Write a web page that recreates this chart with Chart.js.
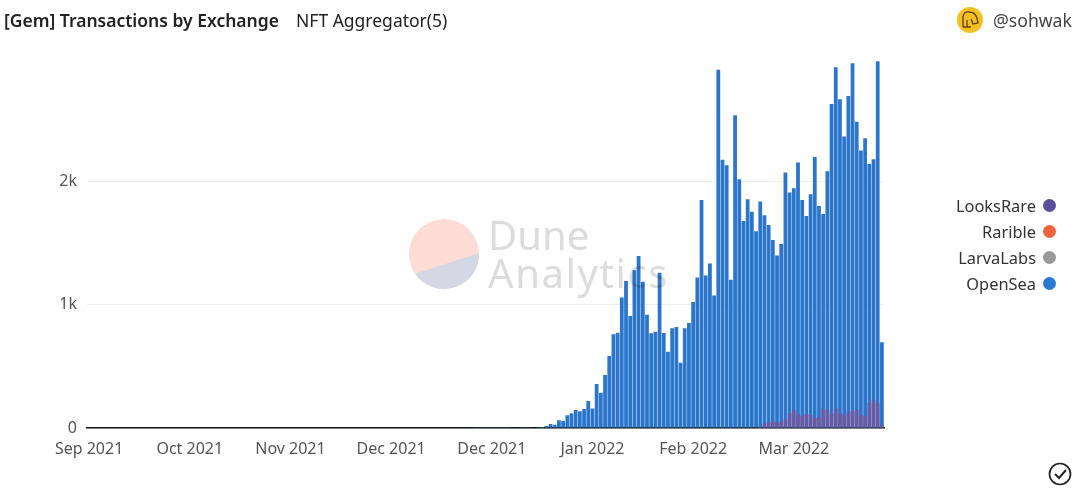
<!DOCTYPE html>
<html>
<head>
<meta charset="utf-8">
<script src="https://cdn.jsdelivr.net/npm/chart.js@4"></script>
<style>
  html, body { margin: 0; padding: 0; background: #fff; }
  #page { position: relative; width: 1080px; height: 491px; overflow: hidden; font-family: "Noto Sans", sans-serif; }
  canvas { position: absolute; left: 0; top: 0; }
  #title { position: absolute; left: 4px; top: 8px; font-size: 17.5px; font-weight: 600; color: #222; white-space: nowrap; }
  #subtitle { position: absolute; left: 296px; top: 8px; font-size: 17.5px; color: #222; white-space: nowrap; }
  #user { position: absolute; left: 993px; top: 8px; font-size: 17.6px; color: #444; }
  #legend { position: absolute; right: 24px; top: 192px; }
  .item { display: flex; justify-content: flex-end; align-items: center; height: 26px; font-size: 16.4px; color: #333; }
  .dot { width: 13px; height: 13px; border-radius: 50%; margin-left: 7px; }
  svg { position: absolute; left: 0; top: 0; pointer-events: none; }
  #mark { mix-blend-mode: multiply; }
</style>
</head>
<body>
<div id="page">
  <canvas id="chart" width="1080" height="491"></canvas>
  <svg id="mark" width="1080" height="491">
    <circle cx="444" cy="254" r="35" fill="#fddcd5"/>
    <path d="M415.1 273.8 A35 35 0 0 0 479 253 Z" fill="#d5d7e5"/>
    <text x="488" y="250" font-family="Noto Sans" font-size="40" fill="#dcdcdc">Dune</text>
    <text x="488" y="288" font-family="Noto Sans" font-size="40" letter-spacing="1.6" fill="#dcdcdc">Analytics</text>
  </svg>
  <svg id="icons" width="1080" height="491">
    <circle cx="970" cy="20" r="13" fill="#f5c024"/>
    <path d="M963 27 L963 17 Q964 11 969 12 Q975 12 977 18 L978 23 L973 24 L971 19 M967 27 L967 20 M963 27 L971 27" fill="none" stroke="#6b4510" stroke-width="1.4"/>
    <circle cx="1060" cy="474" r="10.5" fill="none" stroke="#222" stroke-width="1.7"/>
    <path d="M1055 474 L1059 478 L1066 470" fill="none" stroke="#222" stroke-width="2"/>
  </svg>
  <div id="title">[Gem] Transactions by Exchange</div>
  <div id="subtitle">NFT Aggregator(5)</div>
  <div id="user">@sohwak</div>
  <div id="legend"></div>
</div>
<script>
const tickLabels = ["Sep 2021", "Oct 2021", "Nov 2021", "Dec 2021", "Dec 2021", "Jan 2022", "Feb 2022", "Mar 2022"];

// daily buckets, values
const openSea = [
  0, 0, 0, 0, 0, 0, 0, 0, 0, 0,
  0, 0, 0, 0, 0, 0, 0, 0, 0, 0,
  0, 0, 0, 0, 0, 0, 0, 0, 0, 0,
  0, 0, 0, 0, 0, 0, 0, 0, 0, 0,
  0, 0, 0, 0, 0, 0, 0, 0, 0, 0,
  0, 0, 0, 0, 0, 0, 0, 0, 0, 0,
  0, 0, 0, 0, 0, 0, 0, 0, 0, 0,
  0, 0, 0, 0, 0, 0, 0, 0, 0, 0,
  0, 0, 0, 0, 0, 0, 0, 0, 0, 0,
  0, 0, 2, 2, 3, 2, 2, 3, 3, 6,
  6, 5, 5, 3, 2, 3, 5, 6, 8,
  16, 32, 27, 62, 57, 103, 119, 146, 135, 154,
  219, 157, 356, 286, 429, 583, 759, 772, 1056, 1191,
  907, 1277, 1393, 1185, 918, 767, 780, 1258, 770, 618,
  807, 818, 529, 807, 850, 1020, 1218, 1847, 1234, 1331,
  1072, 2900, 2173, 2128, 1201, 2533, 2014, 1677, 1852, 1752,
  1593, 1833, 1723, 1644, 1523, 1396, 1490, 2068, 1906, 1941,
  2149, 1847, 1717, 1893, 2195, 1798, 1733, 2079, 2624, 2921,
  2662, 2360, 2689, 2954, 2479, 2246, 2346, 2138, 2176, 2970,
  694
];
const looksRare = [
  0, 0, 0, 0, 0, 0, 0, 0, 0, 0,
  0, 0, 0, 0, 0, 0, 0, 0, 0, 0,
  0, 0, 0, 0, 0, 0, 0, 0, 0, 0,
  0, 0, 0, 0, 0, 0, 0, 0, 0, 0,
  0, 0, 0, 0, 0, 0, 0, 0, 0, 0,
  0, 0, 0, 0, 0, 0, 0, 0, 0, 0,
  0, 0, 0, 0, 0, 0, 0, 0, 0, 0,
  0, 0, 0, 0, 0, 0, 0, 0, 0, 0,
  0, 0, 0, 0, 0, 0, 0, 0, 0, 0,
  0, 0, 0, 0, 0, 0, 0, 0, 0, 0,
  0, 0, 0, 0, 0, 0, 0, 0, 0, 0,
  0, 0, 0, 0, 0, 0, 0, 0, 0, 0,
  0, 0, 0, 0, 0, 0, 0, 0, 0, 0,
  0, 0, 0, 0, 0, 0, 0, 0, 0, 0,
  0, 0, 0, 0, 0, 0, 0, 0, 0, 0,
  0, 0, 0, 0, 0, 0, 0, 0, 0, 0,
  13, 35, 49, 54, 46, 51, 73, 122, 143, 116,
  100, 113, 108, 81, 89, 157, 148, 116, 157, 122,
  108, 135, 135, 154, 108, 95, 202, 230, 200, 27
];
const rarible = [];
const larvaLabs = [];

const startDay = new Date(Date.UTC(2021, 8, 22));
const categories = openSea.map((_, i) => {
  const d = new Date(startDay.getTime() + i * 86400000);
  return d.toISOString().slice(0, 10);
});

const fontFamily = '"Noto Sans", sans-serif';

const chart = new Chart(document.getElementById("chart"), {
  type: "bar",
  data: {
    labels: categories,
    datasets: [
      { label: "LooksRare", data: looksRare, backgroundColor: "rgba(120,85,155,0.8)", legendColor: "#5b4e9c" },
      { label: "Rarible", data: rarible, backgroundColor: "#f0653f", legendColor: "#f0653f" },
      { label: "LarvaLabs", data: larvaLabs, backgroundColor: "#999999", legendColor: "#999999" },
      { label: "OpenSea", data: openSea, backgroundColor: "#2b76cc", legendColor: "#2a78d2" },
    ],
  },
  options: {
    responsive: false,
    animation: false,
    layout: { padding: { top: 57.5, right: 196, left: 0, bottom: 0 } },
    datasets: { bar: { grouped: false, categoryPercentage: 1, barPercentage: 0.9 } },
    plugins: { legend: { display: false }, tooltip: { enabled: false } },
    scales: {
      x: {
        grid: { display: false },
        border: { display: true, color: "#111", width: 1.5 },
        afterFit: (scale) => { scale.height = 63; },
        ticks: {
          autoSkip: false,
          maxRotation: 0,
          padding: 4,
          color: "#555",
          font: { family: fontFamily, size: 16 },
          callback: (value, index) => (index % 24 === 0 ? tickLabels[index / 24] : ""),
        },
      },
      y: {
        min: 0,
        max: 3000,
        grid: {
          color: (ctx) => (ctx.tick.value === 3000 ? "transparent" : "#efefef"),
          drawTicks: false,
        },
        border: { display: false },
        afterFit: (scale) => { scale.width = 87; },
        ticks: {
          stepSize: 1000,
          padding: 10,
          color: "#555",
          font: { family: fontFamily, size: 16 },
          callback: (value) => (value === 3000 ? "" : value === 0 ? "0" : value / 1000 + "k"),
        },
      },
    },
  },
});

// legend on the right, dot after the name
document.getElementById("legend").innerHTML = chart.data.datasets
  .map((ds) => `<div class="item">${ds.label}<span class="dot" style="background:${ds.legendColor}"></span></div>`)
  .join("");
</script>
</body>
</html>
